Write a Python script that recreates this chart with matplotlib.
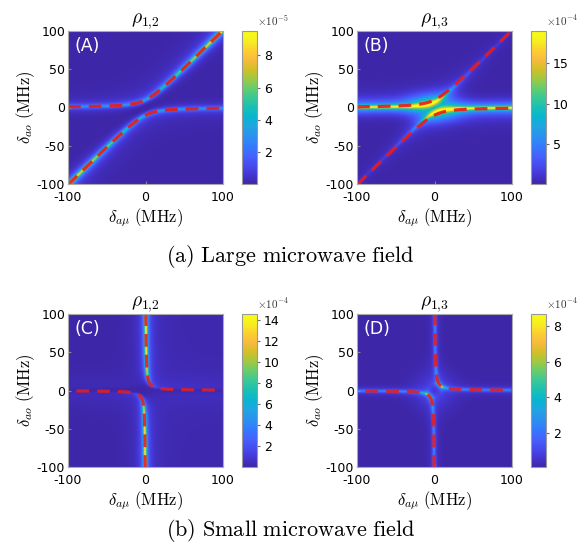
import numpy as np
import matplotlib
matplotlib.use("Agg")
import matplotlib.pyplot as plt
from matplotlib.colors import LinearSegmentedColormap, Normalize

plt.rcParams['mathtext.fontset'] = 'cm'
plt.rcParams['font.family'] = 'DejaVu Sans'
plt.rcParams['axes.unicode_minus'] = False

# parula (sampled every 4th entry of the 64-colour map)
parula_rgb = [
    (0.2422, 0.1504, 0.6603), (0.2706, 0.2147, 0.8364), (0.2813, 0.3006, 0.9414),
    (0.2699, 0.3892, 0.9906), (0.1963, 0.4847, 0.9892), (0.1687, 0.5703, 0.9359),
    (0.1248, 0.6459, 0.8883), (0.0297, 0.7082, 0.8163), (0.0964, 0.7500, 0.7120),
    (0.2161, 0.7843, 0.5923), (0.3909, 0.8029, 0.4354), (0.6174, 0.7876, 0.2612),
    (0.8203, 0.7498, 0.1535), (0.9728, 0.7298, 0.2394), (0.9892, 0.8136, 0.1885),
    (0.9628, 0.9373, 0.1265), (0.9769, 0.9839, 0.0805)]
parula = LinearSegmentedColormap.from_list('parula', parula_rgb)

# panel settings
panel_tags = ['(A)', '(B)', '(C)', '(D)']
panel_titles = [r'$\rho_{1{,}2}$', r'$\rho_{1{,}3}$', r'$\rho_{1{,}2}$', r'$\rho_{1{,}3}$']
cbar_vmax = [9.5, 19.0, 14.6, 8.7]
cbar_ticks = [[2, 4, 6, 8], [5, 10, 15], [2, 4, 6, 8, 10, 12, 14], [2, 4, 6, 8]]
cbar_exp = ['$\\times10^{-5}$', '$\\times10^{-4}$', '$\\times10^{-4}$', '$\\times10^{-4}$']
captions = [r'$\mathrm{(a)\ Large\ microwave\ field}$', r'$\mathrm{(b)\ Small\ microwave\ field}$']

# anticrossing parameters (MHz)
omega_large = 20.0      # splitting of dashed curves, large field
omega_large_heat13 = 14.0
g2_small = 50.0         # hyperbola x*y = g^2, small field

axis_ticks = [-100, 0, 100]
yticks = [-100, -50, 0, 50, 100]

x = np.linspace(-100, 100, 401)
X, Y = np.meshgrid(x, x)


def lorentz(d, w):
    return w**2 / (d**2 + w**2)


def dist_large(om):
    D = Y * (Y - X) - om**2 / 4
    grad = np.sqrt(Y**2 + (2 * Y - X)**2) + 1e-6
    return D / grad


def dist_small(g2):
    D = X * Y - g2
    grad = np.sqrt(X**2 + Y**2) + 1e-6
    return D / grad


# field maps (in units of the colourbar exponent)
dA = dist_large(omega_large)
wA = 3.0 + 6.0 * np.abs(Y) / 100
mapA = wA * (0.9 * lorentz(dA, 2.2) + 0.12 * lorentz(dA, 7.0))

dB = dist_large(omega_large_heat13)
wB = 0.6 + 16.5 / (1 + (Y / 16)**2)
mapB = wB * (0.85 * lorentz(dB, 2.0) + 0.25 * lorentz(dB, 11.0)) \
    + 8.5 * np.exp(-(X**2 / (2 * 22**2) + Y**2 / (2 * 11**2)))

dC = dist_small(g2_small)
wC = 14.5 * Y**2 / (Y**2 + 12**2)
mapC = wC * (0.95 * lorentz(dC, 1.9) + 0.05 * lorentz(dC, 10.0)) + 0.15 * (X > 0)

dD = dist_small(g2_small)
wD = 2.5 + 6.0 * np.clip(2 * g2_small / (X**2 + Y**2 + 1e-6), 0, 1)**2
mapD = wD * (0.95 * lorentz(dD, 1.7) + 0.05 * lorentz(dD, 8.0)) \
    + 0.6 * np.exp(-(X**2 + Y**2) / (2 * 20**2))

maps = [mapA, mapB, mapC, mapD]

# dashed analytic curves
u = np.linspace(-250, 250, 2000)
large_up = (x + np.sqrt(x**2 + omega_large**2)) / 2
large_dn = (x - np.sqrt(x**2 + omega_large**2)) / 2
s = np.sqrt(u**2 + 4 * g2_small)
small_I = ((-u + s) / 2, (u + s) / 2)
small_III = ((-u - s) / 2, (u - s) / 2)

fig = plt.figure(figsize=(5.85, 5.5), dpi=100)
W, H = 585, 550
ax_px = [(68, 31), (357, 31), (68, 314), (357, 314)]
cb_px = [242, 531, 242, 531]

for i in range(4):
    x0, y0 = ax_px[i]
    ax = fig.add_axes([x0 / W, 1 - (y0 + 153) / H, 155 / W, 153 / H])
    im = ax.imshow(maps[i], origin='lower', extent=[-100, 100, -100, 100],
                   cmap=parula, norm=Normalize(0.05, cbar_vmax[i]),
                   aspect='auto', interpolation='bilinear')
    red = (0.92, 0.1, 0.1) if i < 2 else (0.88, 0.12, 0.15)
    if i < 2:
        ax.plot(x, large_up, '--', color=red, alpha=0.9, lw=2.3, dashes=(4, 2.5))
        ax.plot(x, large_dn, '--', color=red, alpha=0.9, lw=2.3, dashes=(4, 2.5))
    else:
        ax.plot(*small_I, '--', color=red, alpha=0.9, lw=2.3, dashes=(4, 2.5))
        ax.plot(*small_III, '--', color=red, alpha=0.9, lw=2.3, dashes=(4, 2.5))
    ax.set_xlim(-100, 100)
    ax.set_ylim(-100, 100)
    ax.set_xticks(axis_ticks)
    ax.set_yticks(yticks)
    ax.tick_params(direction='in', length=2, labelsize=9, color='#888888')
    ax.tick_params(axis='x', pad=5)
    ax.tick_params(axis='y', pad=2)
    for sp in ax.spines.values():
        sp.set_color('#aaaaaa')
    ax.set_xlabel(r'$\delta_{a\mu}\ \mathrm{(MHz)}$', fontsize=12, labelpad=2)
    ax.set_ylabel(r'$\delta_{ao}\ \mathrm{(MHz)}$', fontsize=12, labelpad=0)
    ax.set_title(panel_titles[i], fontsize=14, pad=3)
    ax.text(0.04, 0.96, panel_tags[i], transform=ax.transAxes, color='white',
            fontsize=12.5, ha='left', va='top')

    cax = fig.add_axes([cb_px[i] / W, 1 - (y0 + 153) / H, 15 / W, 153 / H])
    cb = fig.colorbar(im, cax=cax, ticks=cbar_ticks[i])
    cb.outline.set_edgecolor('#999999')
    cax.tick_params(labelsize=9, length=2, color='#666666', pad=3)
    cax.text(1.0, 1.02, cbar_exp[i], transform=cax.transAxes, fontsize=8,
             color='#333333', ha='left', va='bottom')

fig.text(0.496, 1 - 257 / H, captions[0], fontsize=16, ha='center', va='center')
fig.text(0.496, 1 - 531 / H, captions[1], fontsize=16, ha='center', va='center')

fig.savefig('out.png', dpi=100)
